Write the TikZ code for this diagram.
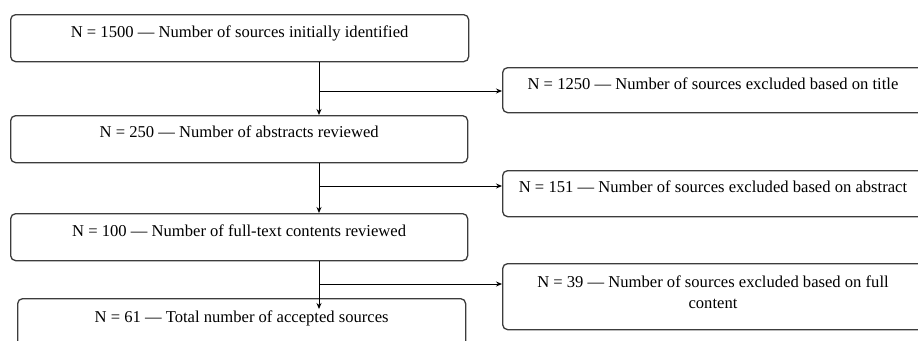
\documentclass[tikz,border=0pt]{standalone}
\usepackage{fontspec}
\setmainfont{Liberation Serif}
\usetikzlibrary{arrows.meta}
\definecolor{edge}{HTML}{3C3C3C}
\tikzset{
  box/.style={draw=edge, line width=1.3pt, rounded corners=5pt, anchor=north west, inner sep=0pt},
  txt/.style={anchor=base, inner sep=0pt, font=\fontsize{16.6}{21}\selectfont, align=center, text=black},
  link/.style={draw=black, line width=0.9pt},
  arr/.style={link, -{Stealth[length=6pt,width=5pt]}}
}
\begin{document}
\begin{tikzpicture}[x=1pt,y=-1pt]
\useasboundingbox (0,0) rectangle (918,340);
\clip (0,0) rectangle (918,340);
\fill[white] (0,0) rectangle (918,340);
% main column
\node[box, minimum width=458pt, minimum height=47pt] (b1) at (10,14) {};
\node[box, minimum width=457pt, minimum height=47pt] (b2) at (10,115) {};
\node[box, minimum width=457pt, minimum height=47pt] (b3) at (10,213) {};
\node[box, minimum width=448pt, minimum height=62pt] (b4) at (17,298) {};
% exclusion boxes
\node[box, minimum width=423pt, minimum height=45pt] (r1) at (502,67) {};
\node[box, minimum width=423pt, minimum height=46pt] (r2) at (502,170) {};
\node[box, minimum width=423pt, minimum height=66pt] (r3) at (502,263) {};
% texts
\node[txt] (t1) at ([yshift=-23pt]b1.north) {N = 1500 — Number of sources initially identified};
\node[txt] (t2) at ([yshift=-22pt]b2.north) {N = 250 — Number of abstracts reviewed};
\node[txt] (t3) at ([yshift=-23pt]b3.north) {N = 100 — Number of full-text contents reviewed};
\node[txt] (t4) at ([yshift=-24pt]b4.north) {N = 61 — Total number of accepted sources};
\node[txt] (u1) at (713,89) {N = 1250 — Number of sources excluded based on title};
\node[txt] (u2) at (713,192) {N = 151 — Number of sources excluded based on abstract};
\node[txt] (u3a) at (713,287) {N = 39 — Number of sources excluded based on full};
\node[txt] (u3b) at (713,308) {content};
% junctions
\coordinate (j1) at (319,91);
\coordinate (j2) at (319,186);
\coordinate (j3) at (319,284);
\coordinate (e4) at (319,309);
% connectors
\draw[link] (b1.south -| j1) -- (j1);
\draw[arr] (j1) -- (b2.north -| j1);
\draw[arr] (j1) -- (r1.west |- j1);
\draw[link] (b2.south -| j2) -- (j2);
\draw[arr] (j2) -- (b3.north -| j2);
\draw[arr] (j2) -- (r2.west |- j2);
\draw[link] (b3.south -| j3) -- (j3);
\draw[arr] (j3) -- (e4);
\draw[arr] (j3) -- (r3.west |- j3);
\end{tikzpicture}
\end{document}
